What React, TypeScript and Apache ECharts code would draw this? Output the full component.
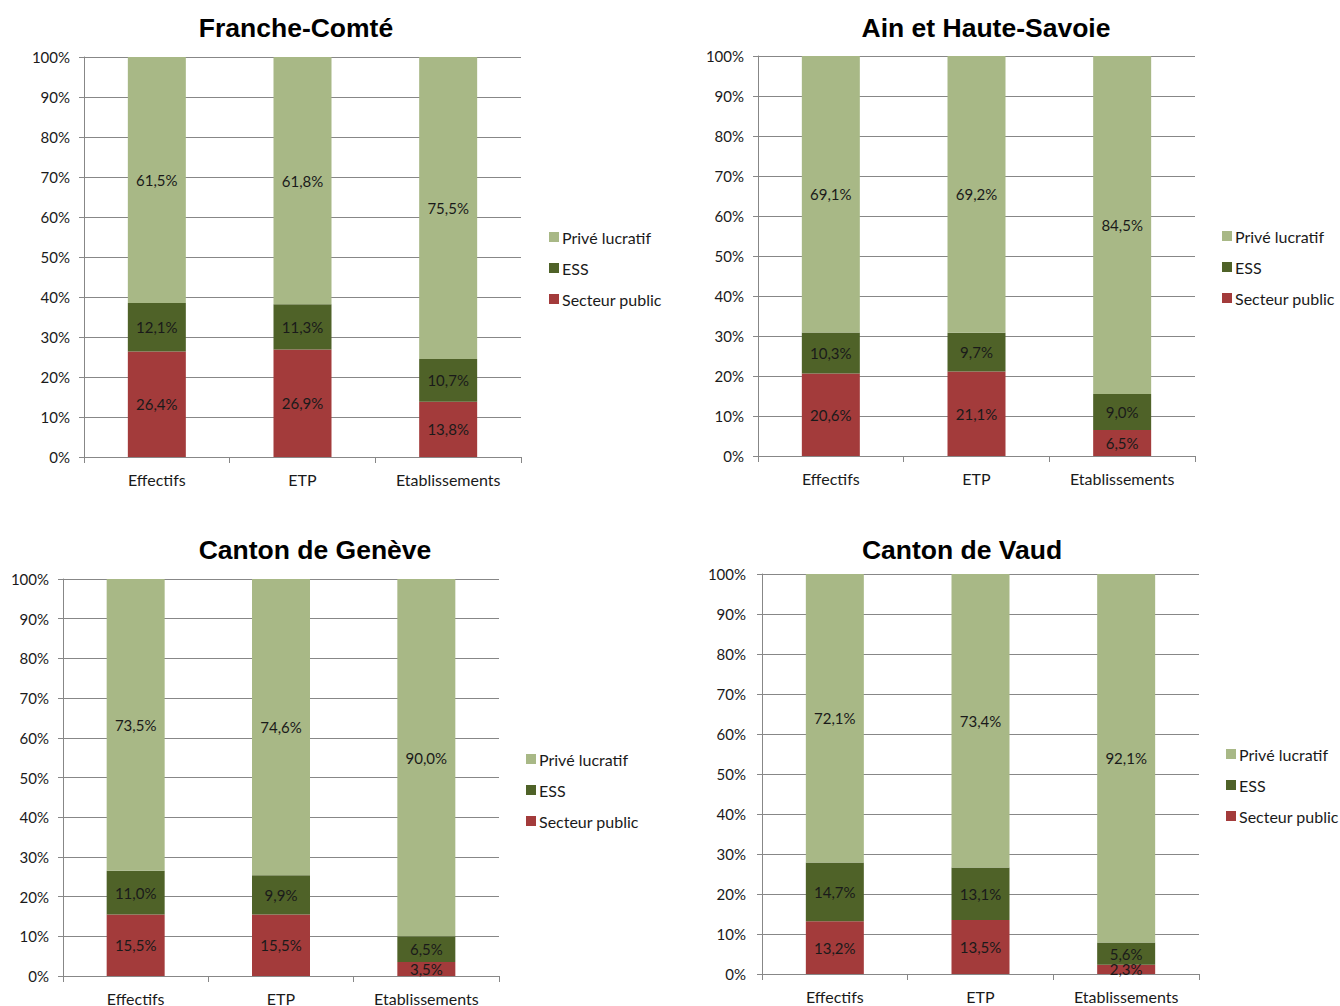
import React, { useEffect, useRef } from "react";
import * as echarts from "echarts";

const categories = ["Effectifs", "ETP", "Etablissements"];
const seriesNames = ["Secteur public", "ESS", "Privé lucratif"];
const legendOrder = ["Privé lucratif", "ESS", "Secteur public"];
const yTicks = [0, 10, 20, 30, 40, 50, 60, 70, 80, 90, 100];

const panelTitles = ["Franche-Comté", "Ain et Haute-Savoie", "Canton de Genève", "Canton de Vaud"];

const fcPublic = [26.4, 26.9, 13.8];
const fcEss = [12.1, 11.3, 10.7];
const fcPrive = [61.5, 61.8, 75.5];

const ahsPublic = [20.6, 21.1, 6.5];
const ahsEss = [10.3, 9.7, 9.0];
const ahsPrive = [69.1, 69.2, 84.5];

const gePublic = [15.5, 15.5, 3.5];
const geEss = [11.0, 9.9, 6.5];
const gePrive = [73.5, 74.6, 90.0];

const vdPublic = [13.2, 13.5, 2.3];
const vdEss = [14.7, 13.1, 5.6];
const vdPrive = [72.1, 73.4, 92.1];

const panelData = [
  [fcPublic, fcEss, fcPrive],
  [ahsPublic, ahsEss, ahsPrive],
  [gePublic, geEss, gePrive],
  [vdPublic, vdEss, vdPrive],
];

const colors = ["#A33B3B", "#4F6228", "#A8B886"];

const layout = [
  { left: 84, top: 57, width: 437, height: 400, yMargin: 14, titleX: 291, titleY: 9, legendX: 544, legendY: 224 },
  { left: 758, top: 56, width: 437, height: 400, yMargin: 14, titleX: 981, titleY: 9, legendX: 1217, legendY: 223 },
  { left: 63, top: 579, width: 436, height: 401, yMargin: 14, titleX: 310, titleY: 531, legendX: 521, legendY: 746 },
  { left: 762, top: 574, width: 437, height: 400, yMargin: 16, titleX: 957, titleY: 531, legendX: 1221, legendY: 741 },
];

const FONT = "Lato";
const AXIS_GRAY = "#878787";

export default function App() {
  const ref = useRef<HTMLDivElement>(null);
  useEffect(() => {
    if (!ref.current) return;
    const chart = echarts.init(ref.current, undefined, { renderer: "svg" });
    const fmt = (p: any) => (p.value as number).toFixed(1).replace(".", ",") + "%";
    const option: any = {
      animation: false,
      backgroundColor: "#ffffff",
      color: colors,
      title: layout.map((l, i) => ({
        text: panelTitles[i],
        left: l.titleX,
        top: l.titleY,
        textAlign: "center",
        textStyle: { fontFamily: "Liberation Sans", fontWeight: "bold", fontSize: 26.5, color: "#000" },
      })),
      legend: layout.map((l) => ({
        data: legendOrder,
        orient: "vertical",
        left: l.legendX,
        top: l.legendY,
        itemWidth: 10,
        itemHeight: 10,
        itemGap: 15,
        icon: "rect",
        selectedMode: false,
        textStyle: { fontFamily: FONT, fontSize: 16, color: "#1a1a1a", padding: [0, 0, 0, -2] },
      })),
      grid: layout.map((l) => ({ left: l.left, top: l.top, width: l.width, height: l.height })),
      xAxis: layout.map((_, i) => ({
        type: "category",
        gridIndex: i,
        data: categories,
        axisLine: { lineStyle: { color: AXIS_GRAY, width: 1 } },
        axisTick: { show: true, length: 6, lineStyle: { color: AXIS_GRAY } },
        axisLabel: { fontFamily: FONT, fontSize: 16, color: "#1a1a1a", margin: 14 },
      })),
      yAxis: layout.map((l, i) => ({
        type: "value",
        gridIndex: i,
        min: 0,
        max: 100,
        interval: 10,
        axisLine: { show: true, lineStyle: { color: AXIS_GRAY, width: 1 } },
        axisTick: { show: true, length: 5, lineStyle: { color: AXIS_GRAY } },
        axisLabel: {
          fontFamily: FONT,
          fontSize: 15,
          color: "#1a1a1a",
          margin: l.yMargin,
          formatter: (v: number) => (yTicks.includes(v) ? v + "%" : ""),
        },
        splitLine: { show: true, lineStyle: { color: AXIS_GRAY, width: 1 } },
      })),
      series: [] as any[],
    };
    panelData.forEach((arrs, i) => {
      arrs.forEach((vals, s) => {
        option.series.push({
          type: "bar",
          name: seriesNames[s],
          xAxisIndex: i,
          yAxisIndex: i,
          stack: "p" + i,
          barWidth: 58,
          data: vals,
          itemStyle: { color: colors[s] },
          label: {
            show: true,
            position: "inside",
            formatter: fmt,
            fontFamily: FONT,
            fontSize: 15,
            color: "#1a1a1a",
          },
        });
      });
    });
    chart.setOption(option);
    return () => chart.dispose();
  }, []);
  return (
    <div
      ref={ref}
      style={{ position: "absolute", left: 0, top: 0, width: 1340, height: 1006 }}
    />
  );
}
